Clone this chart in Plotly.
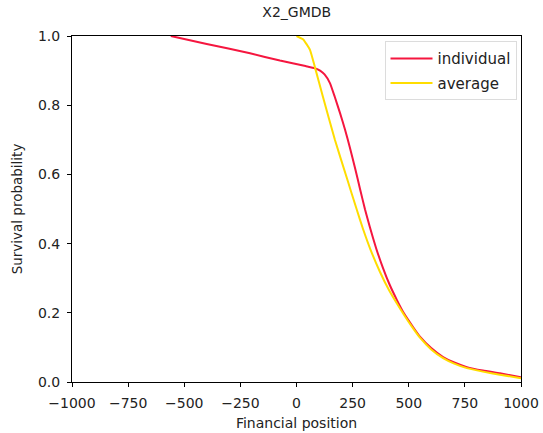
import plotly.graph_objects as go

# Survival probability against financial position (X2_GMDB)
individual_x = [-560, -400, -207, -74, 40, 82, 105, 125, 149, 170, 194, 216, 238, 261, 283, 305,
                327, 355, 385, 415, 448, 480, 519, 550, 600, 653, 700, 759, 830, 906, 1000]
individual_y = [1.0, 0.977, 0.950, 0.929, 0.913, 0.907, 0.900, 0.889, 0.864, 0.825, 0.777, 0.730,
                0.677, 0.618, 0.558, 0.499, 0.447, 0.386, 0.330, 0.281, 0.236, 0.197, 0.159,
                0.131, 0.098, 0.072, 0.057, 0.043, 0.033, 0.025, 0.014]

average_x = [0, 30, 60, 82, 118, 171, 225, 269, 296, 330, 372, 410, 448, 480, 514, 550, 600,
             653, 700, 759, 830, 906, 1000]
average_y = [1.0, 0.99, 0.96, 0.91, 0.824, 0.700, 0.588, 0.497, 0.443, 0.382, 0.318, 0.268,
             0.226, 0.193, 0.160, 0.128, 0.094, 0.069, 0.054, 0.040, 0.030, 0.021, 0.011]

x_ticks = [-1000, -750, -500, -250, 0, 250, 500, 750, 1000]
y_ticks = [0.0, 0.2, 0.4, 0.6, 0.8, 1.0]

RED = "#F5163F"
YELLOW = "#FFDD00"
FONT = "DejaVu Sans"
TEXT = "#222"

fig = go.Figure()
fig.add_trace(go.Scatter(x=individual_x, y=individual_y, mode="lines", name="individual",
                         legendgroup="a",
                         line=dict(color=RED, width=2, shape="spline", smoothing=0.4)))
fig.add_trace(go.Scatter(x=average_x, y=average_y, mode="lines", name="average",
                         legendgroup="b",
                         line=dict(color=YELLOW, width=2, shape="spline", smoothing=0.4)))

axis_common = dict(showline=True, linecolor="black", linewidth=1, mirror=True,
                   ticks="outside", ticklen=4, tickcolor="black", showgrid=False,
                   zeroline=False, ticklabelstandoff=4, automargin=False,
                   tickfont=dict(family=FONT, size=14, color=TEXT))

fig.update_layout(
    width=543, height=433,
    margin=dict(l=72, r=22, t=36, b=51, autoexpand=False),
    paper_bgcolor="white", plot_bgcolor="white",
    title=dict(text="X2_GMDB", x=0.5465, xanchor="center", y=0.972, yanchor="middle",
               font=dict(family=FONT, size=14, color=TEXT)),
    xaxis=dict(range=[-1000, 1000], tickvals=x_ticks,
               title=dict(text="Financial position", font=dict(family=FONT, size=14, color=TEXT),
                          standoff=8),
               **axis_common),
    yaxis=dict(range=[0, 1], tickvals=y_ticks, tickformat=".1f",
               title=dict(text="Survival probability", font=dict(family=FONT, size=13.5, color=TEXT),
                          standoff=12),
               **axis_common),
    legend=dict(x=0.99, y=0.985, xanchor="right", yanchor="top",
                bgcolor="rgba(255,255,255,0.9)", bordercolor="#dcdcdc", borderwidth=1,
                font=dict(family=FONT, size=15, color=TEXT), itemwidth=42,
                traceorder="grouped", tracegroupgap=2),
    showlegend=True,
)

fig.write_html("out.html")
